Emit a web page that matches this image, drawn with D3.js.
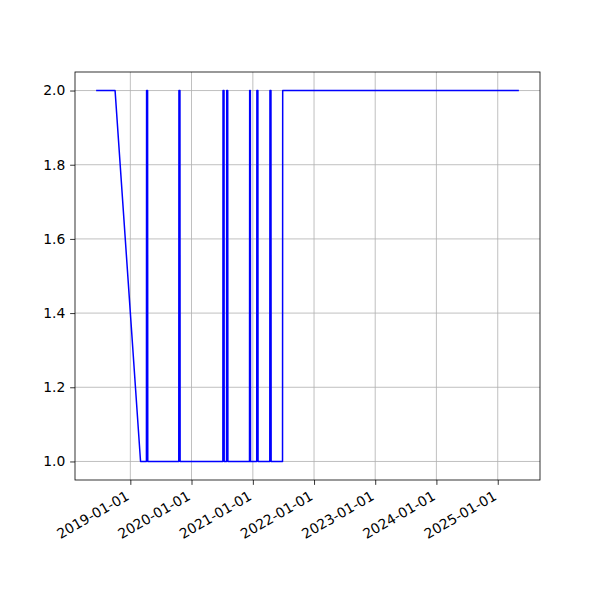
<!DOCTYPE html>
<html>
<head>
<meta charset="utf-8">
<script src="https://cdn.jsdelivr.net/npm/d3@7"></script>
<style>
  html, body { margin: 0; padding: 0; background: #fff; }
  text { font-family: "DejaVu Sans", sans-serif; }
</style>
</head>
<body>
<div id="chart"></div>
<script>
// ---- data ----
const dates = [
  "2018-06-11", "2018-10-02", "2019-03-03",
  "2019-04-07", "2019-04-08", "2019-04-14", "2019-04-15",
  "2019-10-17", "2019-10-18", "2019-10-24", "2019-10-25",
  "2020-07-06", "2020-07-07", "2020-07-13", "2020-07-14",
  "2020-07-28", "2020-07-29", "2020-08-04", "2020-08-05",
  "2020-12-12", "2020-12-13", "2020-12-17", "2020-12-18",
  "2021-01-24", "2021-01-25", "2021-01-31", "2021-02-01",
  "2021-04-12", "2021-04-13", "2021-04-19", "2021-04-20",
  "2021-06-27", "2021-06-28", "2025-05-07"
];
const values = [
  2, 2, 1,
  1, 2, 2, 1,
  1, 2, 2, 1,
  1, 2, 2, 1,
  1, 2, 2, 1,
  1, 2, 2, 1,
  1, 2, 2, 1,
  1, 2, 2, 1,
  1, 2, 2
];
const xTickLabels = ["2019-01-01", "2020-01-01", "2021-01-01", "2022-01-01", "2023-01-01", "2024-01-01", "2025-01-01"];
const yTickValues = [1.0, 1.2, 1.4, 1.6, 1.8, 2.0];

(function () {
// ---- layout ----
const W = 600, H = 600;
const mLeft = 75, mRight = 540, mTop = 72, mBottom = 480;
const fontPx = 13.89;
const tickLen = 4.86, tickPad = 4.86;

const parse = d3.utcParse("%Y-%m-%d");
const data = dates.map((d, i) => ({ date: parse(d), value: values[i] }));

const ext = d3.extent(data, d => d.date.getTime());
const pad = (ext[1] - ext[0]) * 0.05;
const x = d3.scaleUtc().domain([new Date(ext[0] - pad), new Date(ext[1] + pad)]).range([mLeft, mRight]);
const yExt = d3.extent(values);
const yPad = (yExt[1] - yExt[0]) * 0.05;
const y = d3.scaleLinear().domain([yExt[0] - yPad, yExt[1] + yPad]).range([mBottom, mTop]);

const svg = d3.select("#chart").append("svg").attr("width", W).attr("height", H);
svg.append("rect").attr("width", W).attr("height", H).attr("fill", "#fff");

const xTicks = xTickLabels.map(parse);

// grid
const grid = svg.append("g");
grid.selectAll("line.gx").data(xTicks).enter().append("line")
  .attr("x1", d => x(d)).attr("x2", d => x(d)).attr("y1", mTop).attr("y2", mBottom)
  .attr("stroke", "#b0b0b0").attr("stroke-width", 0.8);
grid.selectAll("line.gy").data(yTickValues).enter().append("line")
  .attr("x1", mLeft).attr("x2", mRight).attr("y1", d => y(d)).attr("y2", d => y(d))
  .attr("stroke", "#b0b0b0").attr("stroke-width", 0.8);

// line
const line = d3.line().x(d => x(d.date)).y(d => y(d.value));
svg.append("path").datum(data).attr("d", line)
  .attr("fill", "none").attr("stroke", "#0000ff").attr("stroke-width", 1.5)
  .attr("stroke-linejoin", "round").attr("stroke-linecap", "butt");

// x axis
const xAxis = d3.axisBottom(x).tickValues(xTicks).tickSize(tickLen).tickFormat(d3.utcFormat("%Y-%m-%d"));
const gx = svg.append("g").attr("transform", `translate(0,${mBottom})`).call(xAxis);
gx.select(".domain").remove();
gx.selectAll(".tick line").attr("stroke", "#000").attr("stroke-width", 0.8);
const asc = 0.76 * fontPx, desc = 0.23 * fontPx;
gx.selectAll(".tick text")
  .attr("font-size", fontPx).attr("fill", "#000")
  .attr("text-anchor", "end")
  .attr("dy", null)
  .attr("y", null)
  .attr("transform", `translate(${-0.5 * desc + 1},${tickLen + tickPad + 0.866 * asc}) rotate(-30)`);

// y axis
const yAxis = d3.axisLeft(y).tickValues(yTickValues).tickSize(tickLen).tickPadding(tickPad).tickFormat(d3.format(".1f"));
const gy = svg.append("g").attr("transform", `translate(${mLeft},0)`).call(yAxis);
gy.select(".domain").remove();
gy.selectAll(".tick line").attr("stroke", "#000").attr("stroke-width", 0.8);
gy.selectAll(".tick text").attr("font-size", fontPx).attr("fill", "#000");

// spines
svg.append("rect").attr("x", mLeft).attr("y", mTop).attr("width", mRight - mLeft).attr("height", mBottom - mTop)
  .attr("fill", "none").attr("stroke", "#000").attr("stroke-width", 0.8);
})();
</script>
</body>
</html>
